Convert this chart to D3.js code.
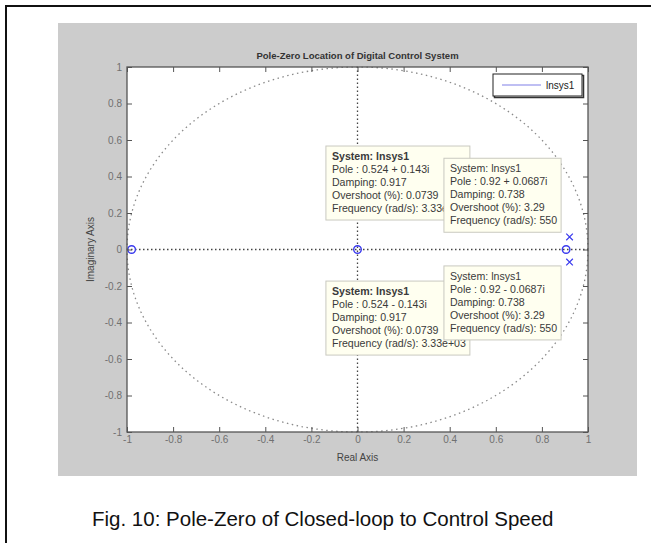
<!DOCTYPE html>
<html>
<head>
<meta charset="utf-8">
<script src="https://cdn.jsdelivr.net/npm/d3@7"></script>
<style>
  html, body { margin: 0; padding: 0; background: #fff; }
  svg { display: block; font-family: "Liberation Sans", Arial, sans-serif; }
</style>
</head>
<body>
<div id="wrapper"></div>
<script>
// pole-zero data
const zeroRe = [-0.98, 0, 0.905];
const zeroIm = [0, 0, 0];
const poleRe = [0.92, 0.92, 0.524, 0.524];
const poleIm = [0.0687, -0.0687, 0.143, -0.143];

const tickValues = [-1, -0.8, -0.6, -0.4, -0.2, 0, 0.2, 0.4, 0.6, 0.8, 1];
const tickLabels = ["-1", "-0.8", "-0.6", "-0.4", "-0.2", "0", "0.2", "0.4", "0.6", "0.8", "1"];

const tipLines = [
  ["System: lnsys1", "Pole : 0.524 + 0.143i", "Damping: 0.917", "Overshoot (%): 0.0739", "Frequency (rad/s): 3.33e+03"],
  ["System: lnsys1", "Pole : 0.92 + 0.0687i", "Damping: 0.738", "Overshoot (%): 3.29", "Frequency (rad/s): 550"],
  ["System: lnsys1", "Pole : 0.524 - 0.143i", "Damping: 0.917", "Overshoot (%): 0.0739", "Frequency (rad/s): 3.33e+03"],
  ["System: lnsys1", "Pole : 0.92 - 0.0687i", "Damping: 0.738", "Overshoot (%): 3.29", "Frequency (rad/s): 550"],
];
const legendLabel = "lnsys1";
const titleText = "Pole-Zero Location of Digital Control System";
const captionText = "Fig. 10: Pole-Zero of Closed-loop to Control Speed";

// layout
const width = 651, height = 543;
const plot = { left: 127, right: 588, top: 67, bottom: 432 };
// datatip box corners (top-left) in data units, and whether the header is bold
const tipPlace = [
  { x: -0.137, y: 0.567, bold: true },
  { x: 0.375, y: 0.50, bold: false },
  { x: -0.137, y: -0.173, bold: true },
  { x: 0.375, y: -0.09, bold: false },
];

const svg = d3.select("#wrapper").append("svg")
  .attr("width", width).attr("height", height);

// page frame + grey figure
svg.append("path")
  .attr("d", `M6,${height} V6 H${width}`)
  .attr("fill", "none").attr("stroke", "#111").attr("stroke-width", 2);
svg.append("rect")
  .attr("x", 58).attr("y", 23).attr("width", 579).attr("height", 453)
  .attr("fill", "#cccccc");

const x = d3.scaleLinear().domain([-1, 1]).range([plot.left, plot.right]);
const y = d3.scaleLinear().domain([-1, 1]).range([plot.bottom, plot.top]);

svg.append("rect")
  .attr("x", plot.left).attr("y", plot.top)
  .attr("width", plot.right - plot.left).attr("height", plot.bottom - plot.top)
  .attr("fill", "#fff");

// unit circle
const angles = d3.range(0, 361, 2);
svg.append("path")
  .datum(angles)
  .attr("d", d3.line()
    .x(a => x(Math.cos(a * Math.PI / 180)))
    .y(a => y(Math.sin(a * Math.PI / 180))))
  .attr("fill", "none").attr("stroke", "#8a8a8a").attr("stroke-width", 1.3)
  .attr("stroke-dasharray", "1.5,3.5");

// crosshair lines
svg.append("line")
  .attr("x1", x(0)).attr("x2", x(0)).attr("y1", y(-1)).attr("y2", y(1))
  .attr("stroke", "#444").attr("stroke-width", 1.3).attr("stroke-dasharray", "1.5,2.5");
svg.append("line")
  .attr("x1", x(-1)).attr("x2", x(1)).attr("y1", y(0)).attr("y2", y(0))
  .attr("stroke", "#444").attr("stroke-width", 1.3).attr("stroke-dasharray", "1.5,2.5");

const blue = "#3a3aee";

// zeros
svg.append("g").selectAll("circle")
  .data(zeroRe)
  .join("circle")
  .attr("cx", d => x(d))
  .attr("cy", (d, i) => y(zeroIm[i]))
  .attr("r", 3.8)
  .attr("fill", "none").attr("stroke", blue).attr("stroke-width", 1.4);

// poles
const s = 3.3;
svg.append("g").selectAll("path")
  .data(poleRe)
  .join("path")
  .attr("d", (d, i) => {
    const px = x(d), py = y(poleIm[i]);
    return `M${px - s},${py - s}L${px + s},${py + s}M${px - s},${py + s}L${px + s},${py - s}`;
  })
  .attr("stroke", blue).attr("stroke-width", 1.2).attr("fill", "none");

// datatips
tipLines.forEach((lines, k) => {
  const p = tipPlace[k];
  const g = svg.append("g").attr("transform", `translate(${x(p.x)},${y(p.y)})`);
  const box = g.append("rect").attr("fill", "#fffff0").attr("stroke", "#c9c9c0").attr("stroke-width", 1);
  const txt = g.selectAll("text")
    .data(lines)
    .join("text")
    .attr("x", 6)
    .attr("y", (d, i) => 14 + i * 13)
    .attr("font-size", 10.6)
    .attr("fill", "#3a3a3a")
    .attr("font-weight", (d, i) => (i === 0 && p.bold ? "bold" : "normal"))
    .text(d => d);
  let w = 0;
  txt.each(function () { w = Math.max(w, this.getComputedTextLength()); });
  box.attr("width", w + 10).attr("height", 74);
});

// legend
const leg = svg.append("g").attr("transform", "translate(493,74)");
leg.append("rect").attr("x", 1.5).attr("y", 1.5).attr("width", 89).attr("height", 22)
  .attr("fill", "none").attr("stroke", "#333").attr("stroke-width", 1.5);
leg.append("rect").attr("width", 89).attr("height", 22)
  .attr("fill", "#fff").attr("stroke", "#222").attr("stroke-width", 1);
leg.append("line").attr("x1", 9).attr("x2", 48).attr("y1", 11).attr("y2", 11)
  .attr("stroke", "#8080e8").attr("stroke-width", 1.2);
leg.append("text").attr("x", 53).attr("y", 15).attr("font-size", 10).attr("fill", "#222")
  .text(legendLabel);

// axes with inward ticks
const fmt = d => tickLabels[tickValues.indexOf(d)];
const axisStyle = g => {
  g.select(".domain").remove();
  g.selectAll(".tick line").attr("stroke", "#555");
  g.selectAll(".tick text").attr("fill", "#707070").attr("font-size", 10)
    .attr("font-family", "'Liberation Sans', Arial, sans-serif");
};
svg.append("g").attr("transform", `translate(0,${plot.bottom})`)
  .call(d3.axisBottom(x).tickValues(tickValues).tickFormat(fmt).tickSize(-5).tickPadding(4))
  .call(axisStyle);
svg.append("g").attr("transform", `translate(0,${plot.top})`)
  .call(d3.axisTop(x).tickValues(tickValues).tickFormat("").tickSize(-5))
  .call(axisStyle);
svg.append("g").attr("transform", `translate(${plot.left},0)`)
  .call(d3.axisLeft(y).tickValues(tickValues).tickFormat(fmt).tickSize(-5).tickPadding(5))
  .call(axisStyle);
svg.append("g").attr("transform", `translate(${plot.right},0)`)
  .call(d3.axisRight(y).tickValues(tickValues).tickFormat("").tickSize(-5))
  .call(axisStyle);

svg.append("rect")
  .attr("x", plot.left).attr("y", plot.top)
  .attr("width", plot.right - plot.left).attr("height", plot.bottom - plot.top)
  .attr("fill", "none").attr("stroke", "#555").attr("stroke-width", 1.3);

// titles
svg.append("text").attr("x", x(0)).attr("y", 59).attr("text-anchor", "middle")
  .attr("font-size", 9.5).attr("font-weight", "bold").attr("fill", "#333").text(titleText);
svg.append("text").attr("x", x(0)).attr("y", 461).attr("text-anchor", "middle")
  .attr("font-size", 10).attr("fill", "#444").text("Real Axis");
svg.append("text")
  .attr("transform", `translate(94,${y(0)}) rotate(-90)`)
  .attr("text-anchor", "middle").attr("font-size", 10).attr("fill", "#444")
  .text("Imaginary Axis");

// caption
svg.append("text").attr("x", 92).attr("y", 526)
  .attr("font-size", 20.5).attr("fill", "#111").text(captionText);
</script>
</body>
</html>
